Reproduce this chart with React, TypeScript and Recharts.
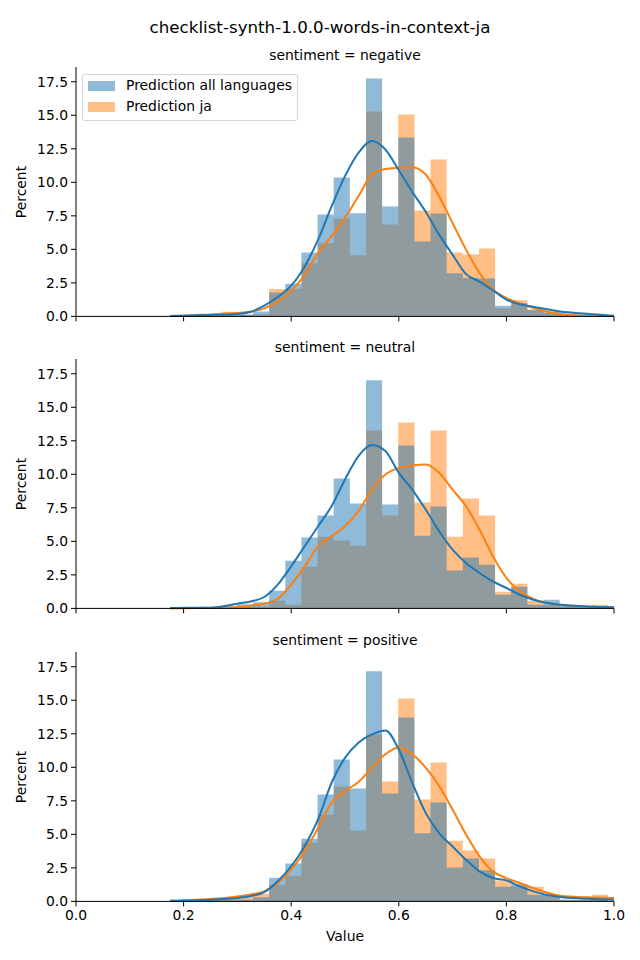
import React from 'react';
import { ComposedChart, Area, Line, XAxis, YAxis } from 'recharts';

// histogram bin edges (width 0.03); each value belongs to the bin starting at that edge
const binEdges = [
  0.179, 0.209, 0.239, 0.269, 0.299, 0.329, 0.359, 0.389, 0.419, 0.449, 0.479, 0.509, 0.539, 0.569,
  0.599, 0.629, 0.659, 0.689, 0.719, 0.749, 0.779, 0.809, 0.839, 0.869, 0.899, 0.929, 0.959, 0.989,
];

const negativeAll = [0.05, 0.05, 0.08, 0.1, 0.12, 0.37, 1.79, 2.44, 4.76, 7.6, 10.36, 7.69, 17.75, 8.19, 13.35, 5.58, 7.67, 3.21, 2.87, 2.82, 0.8, 1.0, 0.5, 0.3, 0.15, 0.12, 0.05];
const negativeJa = [0.05, 0.1, 0.12, 0.35, 0.15, 0.15, 2.05, 2.07, 3.96, 5.45, 7.3, 4.56, 15.29, 6.85, 15.06, 7.89, 11.7, 4.76, 4.61, 5.06, 0.6, 1.2, 0.5, 0.25, 0.1, 0.05, 0.05];

const neutralAll = [0.02, 0.05, 0.1, 0.15, 0.3, 0.45, 1.32, 3.56, 5.28, 6.92, 9.69, 7.82, 17.01, 7.74, 12.15, 5.42, 7.6, 2.82, 3.79, 3.26, 1.02, 1.62, 0.28, 0.65, 0.2, 0.1, 0.1];
const neutralJa = [0.0, 0.02, 0.05, 0.05, 0.1, 0.15, 0.57, 0.28, 3.11, 5.35, 5.06, 4.68, 13.27, 6.92, 13.87, 7.89, 13.27, 5.35, 8.19, 6.92, 1.25, 1.84, 0.57, 0.28, 0.1, 0.1, 0.28];

const positiveAll = [0.05, 0.05, 0.1, 0.12, 0.15, 0.3, 1.77, 2.82, 4.68, 7.97, 10.58, 8.42, 17.16, 8.04, 13.72, 5.08, 7.37, 2.52, 3.19, 2.32, 1.1, 1.3, 0.5, 0.5, 0.12, 0.1, 0.1];
const positiveJa = [0.05, 0.08, 0.12, 0.2, 0.37, 0.55, 1.25, 1.92, 4.38, 6.47, 8.57, 5.28, 12.45, 8.94, 15.14, 7.6, 10.36, 4.53, 3.79, 3.19, 1.55, 1.15, 1.1, 0.55, 0.12, 0.1, 0.5];

// kde curves
const kdeX = [
  0.175, 0.2, 0.25, 0.3, 0.325, 0.35, 0.375, 0.4, 0.425, 0.45, 0.475, 0.5, 0.525, 0.55, 0.575, 0.6,
  0.625, 0.65, 0.675, 0.7, 0.725, 0.75, 0.775, 0.8, 0.825, 0.85, 0.9, 0.95, 1.0,
];

const negativeKdeAll = [0.03, 0.05, 0.1, 0.18, 0.35, 0.8, 1.45, 2.29, 3.73, 5.73, 8.2, 10.46, 12.2, 13.08, 12.45, 10.9, 9.3, 7.8, 6.1, 4.6, 3.15, 2.6, 1.95, 1.25, 0.9, 0.72, 0.37, 0.2, 0.05];
const negativeKdeJa = [0.03, 0.05, 0.15, 0.25, 0.35, 0.6, 1.1, 1.9, 3.1, 4.73, 5.98, 7.35, 8.96, 10.58, 11.0, 11.08, 11.13, 10.58, 8.96, 6.97, 4.98, 3.24, 2.0, 1.37, 0.98, 0.62, 0.18, 0.06, 0.02];

const neutralKdeAll = [0.03, 0.04, 0.05, 0.35, 0.52, 0.85, 1.77, 3.14, 4.63, 6.13, 7.62, 9.61, 11.36, 12.18, 11.73, 10.11, 8.86, 7.37, 5.75, 4.38, 3.38, 2.64, 2.01, 1.52, 1.02, 0.65, 0.27, 0.15, 0.07];
const neutralKdeJa = [0.0, 0.01, 0.05, 0.1, 0.2, 0.35, 0.72, 1.77, 3.14, 4.63, 5.38, 6.13, 7.25, 8.86, 9.98, 10.48, 10.66, 10.73, 10.11, 8.86, 7.62, 5.88, 3.89, 2.27, 1.27, 0.7, 0.27, 0.15, 0.1];

const positiveKdeAll = [0.05, 0.06, 0.12, 0.25, 0.4, 0.7, 1.5, 2.62, 4.12, 6.11, 8.85, 10.7, 11.83, 12.45, 12.75, 11.33, 8.85, 6.6, 5.1, 4.1, 3.1, 2.24, 1.74, 1.57, 1.12, 0.75, 0.32, 0.2, 0.12];
const positiveKdeJa = [0.05, 0.07, 0.17, 0.37, 0.52, 0.75, 1.37, 2.37, 3.74, 5.48, 7.35, 8.22, 8.9, 9.97, 10.97, 11.47, 10.97, 9.97, 8.6, 6.85, 4.98, 3.36, 2.24, 1.74, 1.37, 0.99, 0.42, 0.3, 0.25];

const xTicks = [0, 0.2, 0.4, 0.6, 0.8, 1.0];
const yTicks = [0, 2.5, 5, 7.5, 10, 12.5, 15, 17.5];

const BLUE = '#1f77b4';
const ORANGE = '#ff7f0e';
const FONT = '"DejaVu Sans", sans-serif';
const tickStyle = { fill: '#000', fontSize: 13.9, fontFamily: FONT };

const PLOT_H = 249.4;

// text placed by its baseline (DejaVu: baseline sits 0.846em below the line box top)
const Label = ({ x, baseline, size, children, rotate }: any) => (
  <div
    style={{
      position: 'absolute',
      left: x,
      top: rotate ? baseline : baseline - 0.846 * size,
      fontFamily: FONT,
      fontSize: size,
      lineHeight: `${size}px`,
      whiteSpace: 'nowrap',
      color: '#000',
      transform: rotate ? 'translate(-50%, -50%) rotate(-90deg)' : 'translateX(-50%)',
    }}
  >
    {children}
  </div>
);

interface PanelProps {
  title: string;
  all: number[];
  ja: number[];
  kdeAll: number[];
  kdeJa: number[];
  top: number;
  last?: boolean;
}

const Panel: React.FC<PanelProps> = ({ title, all, ja, kdeAll, kdeJa, top, last }) => {
  // step data: the closing edge repeats the last bin so the final step is drawn
  const n = all.length;
  const hist = binEdges.map((x, i) => ({ x, all: all[Math.min(i, n - 1)], ja: ja[Math.min(i, n - 1)] }));
  const kde = kdeX.map((x, i) => ({ x, all: kdeAll[i], ja: kdeJa[i] }));
  const axisH = last ? 30 : 10;

  return (
    <>
      <Label x={345} baseline={top - 6.6} size={13.9}>{title}</Label>
      <Label x={21.5} baseline={top + PLOT_H / 2} size={13.9} rotate>Percent</Label>
      <div style={{ position: 'absolute', left: 0, top }}>
        <ComposedChart
          width={640}
          height={PLOT_H + axisH}
          data={hist}
          margin={{ top: 0, right: 26, bottom: 0, left: 0 }}
          style={{ fontFamily: FONT }}
        >
          <XAxis
            dataKey="x"
            type="number"
            domain={[0, 1]}
            ticks={xTicks}
            interval={0}
            height={axisH}
            tickSize={5}
            tickMargin={4}
            tick={tickStyle}
            tickFormatter={(v: number) => (last ? v.toFixed(1) : '')}
            axisLine={{ stroke: '#000' }}
            tickLine={{ stroke: '#000' }}
          />
          <YAxis
            type="number"
            domain={[0, 18.6]}
            ticks={yTicks}
            interval={0}
            width={76}
            tickSize={5}
            tickMargin={3}
            tick={tickStyle}
            tickFormatter={(v: number) => v.toFixed(1)}
            axisLine={{ stroke: '#000' }}
            tickLine={{ stroke: '#000' }}
          />
          <Area dataKey="ja" type="stepAfter" fill={ORANGE} fillOpacity={0.5} stroke="none" activeDot={false} isAnimationActive={false} />
          <Area dataKey="all" type="stepAfter" fill={BLUE} fillOpacity={0.5} stroke="none" activeDot={false} isAnimationActive={false} />
          <Line data={kde} dataKey="ja" type="monotone" stroke={ORANGE} strokeWidth={2} dot={false} isAnimationActive={false} />
          <Line data={kde} dataKey="all" type="monotone" stroke={BLUE} strokeWidth={2} dot={false} isAnimationActive={false} />
        </ComposedChart>
      </div>
    </>
  );
};

const App = () => (
  <div style={{ position: 'absolute', left: 0, top: 0, width: 640, height: 960, background: '#fff' }}>
    <Label x={320} baseline={33.3} size={16.7}>checklist-synth-1.0.0-words-in-context-ja</Label>

    <Panel title="sentiment = negative" all={negativeAll} ja={negativeJa} kdeAll={negativeKdeAll} kdeJa={negativeKdeJa} top={67.3} />
    <Panel title="sentiment = neutral" all={neutralAll} ja={neutralJa} kdeAll={neutralKdeAll} kdeJa={neutralKdeJa} top={359.3} />
    <Panel title="sentiment = positive" all={positiveAll} ja={positiveJa} kdeAll={positiveKdeAll} kdeJa={positiveKdeJa} top={652.3} last />

    <Label x={345} baseline={942} size={13.9}>Value</Label>

    {/* legend */}
    <div
      style={{
        position: 'absolute',
        left: 82,
        top: 74,
        width: 216,
        height: 47,
        boxSizing: 'border-box',
        border: '1px solid #d6d6d6',
        borderRadius: 3,
        background: 'rgba(255,255,255,0.8)',
      }}
    />
    <div style={{ position: 'absolute', left: 88, top: 81, width: 27, height: 10, background: 'rgba(31,119,180,0.5)' }} />
    <div style={{ position: 'absolute', left: 88, top: 102, width: 27, height: 10, background: 'rgba(255,127,14,0.5)' }} />
    <div style={{ position: 'absolute', left: 126, top: 90.7 - 0.846 * 13.9, fontFamily: FONT, fontSize: 13.9, lineHeight: '13.9px', whiteSpace: 'nowrap' }}>
      Prediction all languages
    </div>
    <div style={{ position: 'absolute', left: 126, top: 112 - 0.846 * 13.9, fontFamily: FONT, fontSize: 13.9, lineHeight: '13.9px', whiteSpace: 'nowrap' }}>
      Prediction ja
    </div>
  </div>
);

export default App;
